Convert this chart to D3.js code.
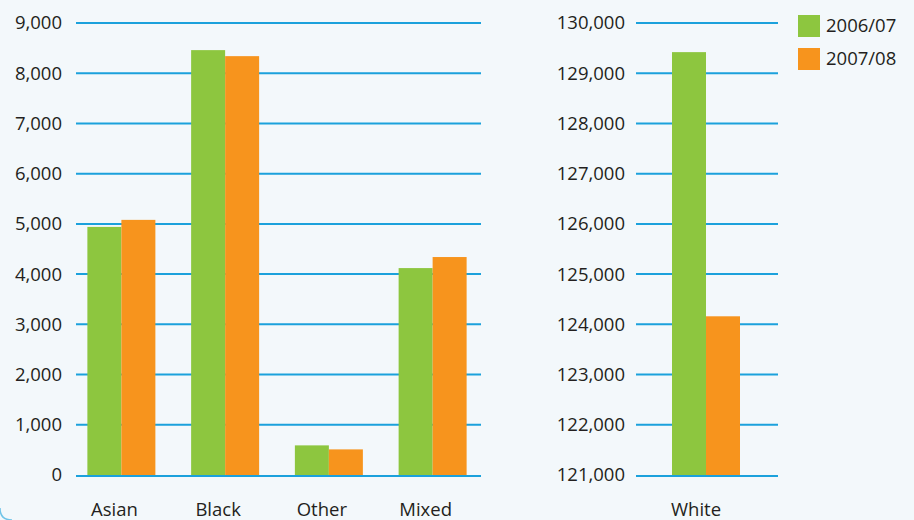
<!DOCTYPE html>
<html>
<head>
<meta charset="utf-8">
<script src="https://cdn.jsdelivr.net/npm/d3@7"></script>
<style>
  html, body { margin: 0; padding: 0; background: #f3f8fb; }
  svg { display: block; }
  text { font-family: "Open Sans", "Noto Sans", sans-serif; fill: #231f20; }
</style>
</head>
<body>
<svg id="chart" width="914" height="520"></svg>
<script>
// ---- data ----
const categoriesLeft = ["Asian", "Black", "Other", "Mixed"];
const values200607Left = [4940, 8460, 590, 4120];
const values200708Left = [5080, 8340, 510, 4340];
const categoriesRight = ["White"];
const values200607Right = [129420];
const values200708Right = [124160];
const seriesNames = ["2006/07", "2007/08"];
const seriesColors = ["#8dc63f", "#f7941d"];
const ticksLeft = [0, 1000, 2000, 3000, 4000, 5000, 6000, 7000, 8000, 9000];
const ticksRight = [121000, 122000, 123000, 124000, 125000, 126000, 127000, 128000, 129000, 130000];

const svg = d3.select("#chart");
const fmt = d3.format(",");
const gridColor = "#1ba1dc";
const yTop = 23, yBottom = 475;
const fontSize = "18.5px";

function panel(cfg) {
  const y = d3.scaleLinear().domain(cfg.domain).range([yBottom, yTop]);
  const x = d3.scaleBand().domain(cfg.categories).range(cfg.bandRange).paddingInner(0).paddingOuter(0);
  const g = svg.append("g");

  // gridlines (baseline drawn separately)
  g.selectAll("line.grid").data(cfg.ticks.slice(1)).join("line")
    .attr("x1", cfg.gridX[0]).attr("x2", cfg.gridX[1])
    .attr("y1", d => y(d)).attr("y2", d => y(d))
    .attr("stroke", gridColor).attr("stroke-width", 2);

  // tick labels
  g.selectAll("text.tick").data(cfg.ticks).join("text")
    .attr("x", cfg.labelX).attr("y", d => y(d)).attr("dy", "0.35em")
    .attr("text-anchor", "end").style("font-size", fontSize)
    .text(d => fmt(d));

  const barW = 34;
  const data = cfg.categories.map((c, i) => ({ c, v: [cfg.s1[i], cfg.s2[i]] }));
  data.forEach(d => {
    const cx = x(d.c) + x.bandwidth() / 2;
    d.v.forEach((v, k) => {
      g.append("rect")
        .attr("x", cx - barW + k * barW)
        .attr("width", barW)
        .attr("y", y(v))
        .attr("height", y(cfg.domain[0]) - y(v))
        .attr("fill", seriesColors[k]);
    });
    g.append("text")
      .attr("x", cx + cfg.labelShift).attr("y", 516)
      .attr("text-anchor", "middle").style("font-size", fontSize)
      .text(d.c);
  });
  // baseline
  g.append("line")
    .attr("x1", cfg.gridX[0]).attr("x2", cfg.gridX[1])
    .attr("y1", y(cfg.domain[0]) + 1).attr("y2", y(cfg.domain[0]) + 1)
    .attr("stroke", gridColor).attr("stroke-width", 2);
}

panel({
  categories: categoriesLeft, s1: values200607Left, s2: values200708Left,
  domain: [0, 9000], ticks: ticksLeft,
  bandRange: [69.5, 484.5], gridX: [76, 481], labelX: 62, labelShift: -7
});
panel({
  categories: categoriesRight, s1: values200607Right, s2: values200708Right,
  domain: [121000, 130000], ticks: ticksRight,
  bandRange: [636, 776], gridX: [636, 778], labelX: 625, labelShift: -10
});

// legend
const leg = svg.append("g");
seriesNames.forEach((n, i) => {
  leg.append("rect").attr("x", 798).attr("y", 15 + i * 33).attr("width", 22).attr("height", 22)
    .attr("fill", seriesColors[i]);
  leg.append("text").attr("x", 826).attr("y", 26 + i * 33).attr("dy", "0.35em")
    .style("font-size", fontSize).text(n);
});

// frame corner hint
svg.append("path")
  .attr("d", "M0,508 Q0,520 12,520")
  .attr("fill", "none").attr("stroke", "#1ba1dc").attr("stroke-width", 1.5).attr("opacity", 0.6);
</script>
</body>
</html>
